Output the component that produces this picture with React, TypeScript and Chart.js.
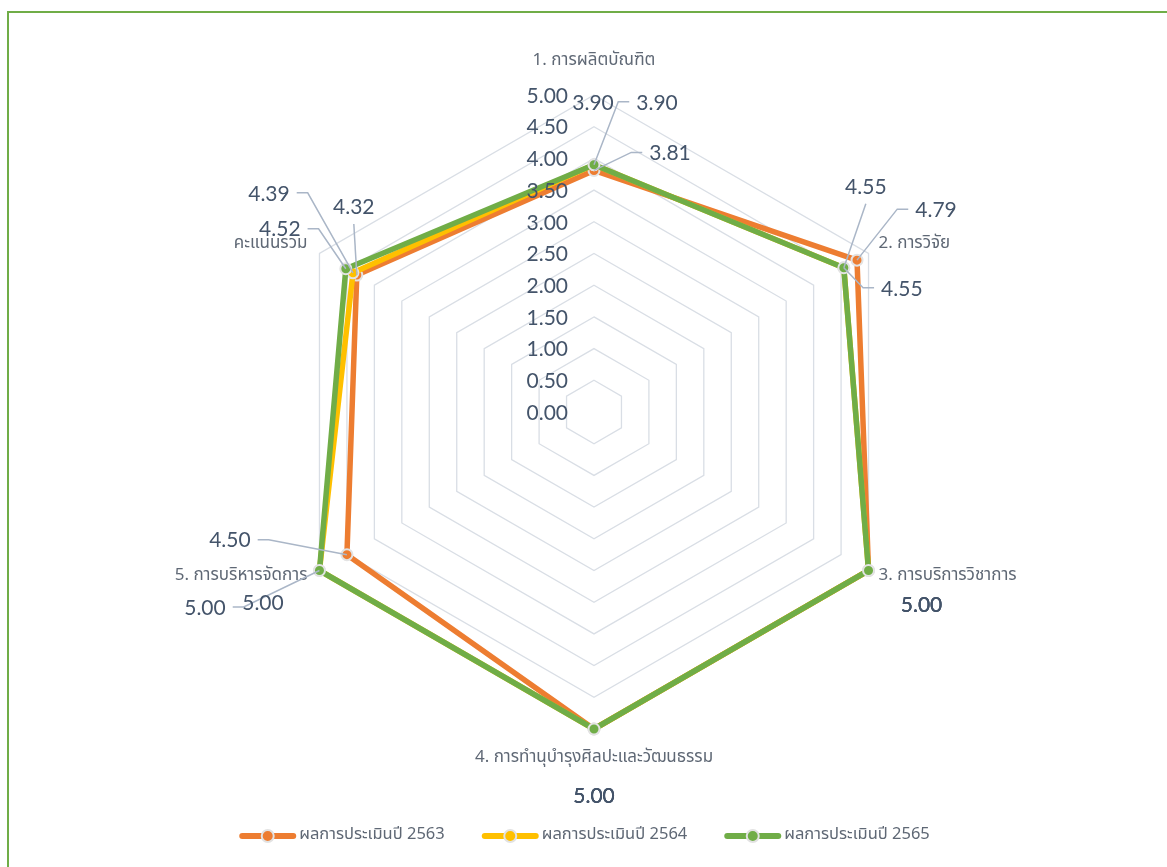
import React, { useEffect, useRef } from "react";
import { Chart, registerables } from "chart.js";

Chart.register(...registerables);

// ---- data ----
const categories = [
  "1. การผลิตบัณฑิต",
  "2. การวิจัย",
  "3. การบริการวิชาการ",
  "4. การทำนุบำรุงศิลปะและวัฒนธรรม",
  "5. การบริหารจัดการ",
  "คะแนนรวม",
];
const seriesNames = ["ผลการประเมินปี 2563", "ผลการประเมินปี 2564", "ผลการประเมินปี 2565"];
const values2563 = [3.81, 4.79, 5.0, 5.0, 4.5, 4.32];
const values2564 = [3.9, 4.55, 5.0, 5.0, 5.0, 4.39];
const values2565 = [3.9, 4.55, 5.0, 5.0, 5.0, 4.52];
const tickValues = [0, 0.5, 1, 1.5, 2, 2.5, 3, 3.5, 4, 4.5, 5];

// ---- styles ----
const seriesColors = ["#ED7D31", "#FFC000", "#70AD47"];
const NUM_FONT = "21px Lato, 'Open Sans', sans-serif";
const THAI_FONT_FAMILY = "'Noto Sans Thai', 'Noto Sans', 'DejaVu Sans', sans-serif";
const TEXT_DARK = "#44546A";
const TEXT_GREY = "#5f6875";
const LEADER = "#aab6c7";

// label offsets (dx, dy) from each point, and whether a leader line is drawn
type Off = { dx: number; dy: number; leader: boolean };
const labelOffsets: Off[][] = [
  [
    { dx: 76, dy: -17, leader: true },
    { dx: 79, dy: -50, leader: true },
    { dx: 53, dy: 35, leader: false },
    { dx: 0, dy: 67, leader: false },
    { dx: -117, dy: -14, leader: true },
    { dx: -3, dy: -68, leader: true },
  ],
  [
    { dx: -1, dy: -62, leader: false },
    { dx: 22, dy: -81, leader: true },
    { dx: 53, dy: 35, leader: false },
    { dx: 0, dy: 67, leader: false },
    { dx: -114.5, dy: 37.5, leader: true },
    { dx: -84, dy: -79, leader: true },
  ],
  [
    { dx: 63, dy: -62, leader: true },
    { dx: 58, dy: 21, leader: true },
    { dx: 53, dy: 35, leader: false },
    { dx: 0, dy: 67, leader: false },
    { dx: -56.5, dy: 32.5, leader: false },
    { dx: -66, dy: -39, leader: true },
  ],
];

const overlayPlugin = {
  id: "overlay",
  afterDatasetsDraw(chart: any) {
    const ctx: CanvasRenderingContext2D = chart.ctx;
    const scale = chart.scales.r;
    const cx = scale.xCenter;
    const cy = scale.yCenter;
    const R = scale.drawingArea;

    // tick labels
    ctx.save();
    ctx.font = NUM_FONT;
    ctx.fillStyle = TEXT_DARK;
    ctx.textAlign = "right";
    ctx.textBaseline = "middle";
    tickValues.forEach((v) => {
      const d = scale.getDistanceFromCenterForValue(v);
      ctx.fillText(v.toFixed(2), cx - 26, cy - d + 1);
    });
    ctx.restore();

    // point (category) labels
    ctx.save();
    ctx.font = `17px ${THAI_FONT_FAMILY}`;
    ctx.fillStyle = TEXT_GREY;
    ctx.textBaseline = "middle";
    const s60 = Math.sin(Math.PI / 3);
    const pos = [
      { x: cx, y: cy - R - 33, a: "center" },
      { x: cx + R * s60 + 10, y: cy - R / 2 - 9, a: "left" },
      { x: cx + R * s60 + 10, y: cy + R / 2 + 6, a: "left" },
      { x: cx, y: cy + R + 30, a: "center" },
      { x: cx - R * s60 - 12, y: cy + R / 2 + 6, a: "right" },
      { x: cx - R * s60 - 12, y: cy - R / 2 - 9, a: "right" },
    ];
    categories.forEach((c, i) => {
      ctx.textAlign = pos[i].a as CanvasTextAlign;
      ctx.fillText(c, pos[i].x, pos[i].y);
    });
    ctx.restore();

    // data labels with leader lines
    ctx.save();
    ctx.font = NUM_FONT;
    ctx.textAlign = "center";
    ctx.textBaseline = "middle";
    chart.data.datasets.forEach((ds: any, di: number) => {
      const meta = chart.getDatasetMeta(di);
      meta.data.forEach((pt: any, i: number) => {
        const off = labelOffsets[di][i];
        const lx = pt.x + off.dx;
        const ly = pt.y + off.dy;
        const txt = Number(ds.data[i]).toFixed(2);
        const w = ctx.measureText(txt).width;
        if (off.leader) {
          ctx.strokeStyle = LEADER;
          ctx.lineWidth = 1.5;
          ctx.beginPath();
          if (Math.abs(off.dy) > 2 * Math.abs(off.dx)) {
            const sy = off.dy < 0 ? ly + 17 : ly - 17;
            ctx.moveTo(lx, sy);
          } else {
            const sgn = off.dx > 0 ? -1 : 1;
            const ex = off.dx > 0 ? lx - w / 2 : lx + w / 2;
            const sx = ex + sgn * 7;
            ctx.moveTo(sx, ly - 1);
            ctx.lineTo(sx + sgn * 11, ly - 1);
          }
          ctx.lineTo(pt.x, pt.y);
          ctx.stroke();
        }
        ctx.fillStyle = TEXT_DARK;
        ctx.fillText(txt, lx, ly);
      });
    });
    ctx.restore();
  },
  afterDraw(chart: any) {
    // legend
    const ctx: CanvasRenderingContext2D = chart.ctx;
    ctx.save();
    ctx.font = `16.5px ${THAI_FONT_FAMILY}`;
    ctx.textBaseline = "middle";
    ctx.textAlign = "left";
    const markerW = 57;
    const gap = 37;
    const widths = seriesNames.map((n) => ctx.measureText(n).width);
    const total = widths.reduce((a, b) => a + b + markerW + 3, 0) + gap * (widths.length - 1);
    let x = chart.width / 2 + 1 - total / 2;
    const y = chart.height - 31;
    chart.data.datasets.forEach((ds: any, i: number) => {
      const col = ds.borderColor;
      ctx.strokeStyle = col;
      ctx.lineWidth = 6;
      ctx.lineCap = "round";
      ctx.beginPath();
      ctx.moveTo(x + 3, y);
      ctx.lineTo(x + markerW - 3, y);
      ctx.stroke();
      ctx.beginPath();
      ctx.arc(x + markerW / 2, y, 6, 0, Math.PI * 2);
      ctx.fillStyle = col;
      ctx.fill();
      ctx.lineWidth = 2;
      ctx.strokeStyle = "#e2e2e2";
      ctx.stroke();
      ctx.fillStyle = TEXT_GREY;
      ctx.fillText(ds.label, x + markerW + 3, y);
      x += markerW + 3 + widths[i] + gap;
    });
    ctx.restore();
  },
};

export default function App() {
  const ref = useRef<HTMLCanvasElement | null>(null);

  useEffect(() => {
    if (!ref.current) return;
    const series = [values2563, values2564, values2565];
    const chart = new Chart(ref.current, {
      type: "radar",
      data: {
        labels: categories,
        datasets: series.map((vals, i) => ({
          label: seriesNames[i],
          data: vals,
          borderColor: seriesColors[i],
          backgroundColor: "transparent",
          fill: false,
          borderWidth: 5.5,
          borderJoinStyle: "round" as const,
          pointRadius: 5.5,
          pointBackgroundColor: seriesColors[i],
          pointBorderColor: "#e3e3e3",
          pointBorderWidth: 2,
          order: 2 - i,
        })),
      },
      options: {
        responsive: false,
        animation: false,
        layout: { padding: { top: 95, bottom: 138, left: 277, right: 256 } },
        plugins: {
          legend: { display: false },
          tooltip: { enabled: false },
        },
        scales: {
          r: {
            min: 0,
            max: 5,
            ticks: { stepSize: 0.5, display: false },
            grid: { color: "#d9dee5", lineWidth: 1.3 },
            angleLines: { display: false },
            pointLabels: { display: false },
          },
        },
      },
      plugins: [overlayPlugin],
    });
    return () => chart.destroy();
  }, []);

  return (
    <>
      <div
        style={{
          position: "fixed",
          left: 7,
          top: 11,
          width: 1300,
          height: 1000,
          borderTop: "2px solid #70AD47",
          borderLeft: "2px solid #70AD47",
          background: "#fff",
        }}
      />
      <canvas
        ref={ref}
        width={1167}
        height={867}
        style={{ position: "fixed", left: 0, top: 0, width: 1167, height: 867 }}
      />
    </>
  );
}
